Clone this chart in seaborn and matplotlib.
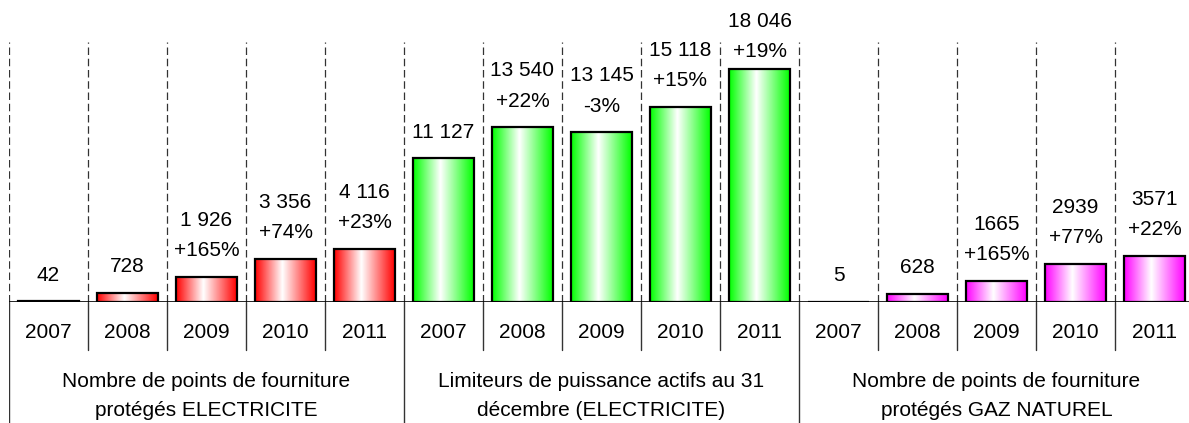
import numpy as np
import pandas as pd
import matplotlib.pyplot as plt
import seaborn as sns
from matplotlib.colors import LinearSegmentedColormap

# data
years = ['2007', '2008', '2009', '2010', '2011']
group_names = ['Nombre de points de fourniture\nprotégés ELECTRICITE',
               'Limiteurs de puissance actifs au 31\ndécembre (ELECTRICITE)',
               'Nombre de points de fourniture\nprotégés GAZ NATUREL']
elec_points = [42, 728, 1926, 3356, 4116]
limiteurs = [11127, 13540, 13145, 15118, 18046]
gaz_points = [5, 628, 1665, 2939, 3571]
value_labels = ['42', '728', '1 926', '3 356', '4 116',
                '11 127', '13 540', '13 145', '15 118', '18 046',
                '5', '628', '1665', '2939', '3571']
pct_labels = ['', '', '+165%', '+74%', '+23%',
              '', '+22%', '-3%', '+15%', '+19%',
              '', '', '+165%', '+77%', '+22%']
group_colors = ['#FF0000', '#00FF00', '#FF00FF']

series = [elec_points, limiteurs, gaz_points]
rows = []
for g, vals in enumerate(series):
    for y, v in zip(years, vals):
        rows.append({'slot': f'{g}-{y}', 'group': g, 'year': y, 'value': v})
df = pd.DataFrame(rows)
order = list(df['slot'])

sns.set_style('white')
plt.rcParams['font.family'] = ['Liberation Sans', 'DejaVu Sans']
plt.rcParams['text.color'] = 'black'

W, H = 1189, 423
fig = plt.figure(figsize=(W / 100, H / 100), dpi=100)
ax = fig.add_axes([9 / W, 121 / H, 1185 / W, 260 / H])

sns.barplot(data=df, x='slot', y='value', order=order, color='white',
            saturation=1, width=0.76, edgecolor='black', linewidth=1.6, ax=ax)

ymax = 20150
n = len(order)
top_value = df['value'].max()

# gradient fill clipped to each bar
grad = np.linspace(0, 1, 256).reshape(1, -1)
for i, patch in enumerate(ax.patches[:n]):
    col = group_colors[df['group'].iloc[i]]
    cmap = LinearSegmentedColormap.from_list('g', [(0, col), (0.45, 'white'), (1, col)])
    x0, y0 = patch.get_x(), patch.get_y()
    w, h = patch.get_width(), patch.get_height()
    patch.set_facecolor('none')
    patch.set_zorder(3)
    im = ax.imshow(grad, extent=[x0, x0 + w, y0, y0 + h], aspect='auto',
                   cmap=cmap, zorder=2, interpolation='bilinear')
    im.set_clip_path(patch)

    lab = value_labels[i] if not pct_labels[i] else value_labels[i] + '\n' + pct_labels[i]
    # the tallest label is squeezed down to stay inside the picture
    off = 6 if h == top_value else 12
    ax.annotate(lab, (x0 + w / 2, y0 + h), xytext=(0, off), textcoords='offset points',
                ha='center', va='bottom', fontsize=15, linespacing=1.75, zorder=4)

# dashed separators between slots
ax.vlines(np.arange(-0.5, n - 1, 1), 0, ymax, colors='#333333', linewidth=0.9,
          linestyles=(0, (6, 3)), zorder=1)
ax.axhline(0, color='black', linewidth=1.2, zorder=5)

ax.set_xlim(-0.5, n - 0.5)
ax.set_ylim(0, ymax)
ax.set_xlabel('')
ax.set_ylabel('')
ax.set_xticks([])
ax.set_yticks([])
sns.despine(ax=ax, left=True, bottom=True)

# category table under the axis
tab = fig.add_axes([9 / W, 0, 1185 / W, 121 / H])
tab.set_xlim(-0.5, n - 0.5)
tab.set_ylim(0, 121)
tab.axis('off')
for i, slot in enumerate(order):
    tab.text(i, 91, df['year'].iloc[i], ha='center', va='center', fontsize=15)
    if i > 0 and i % 5 != 0:
        tab.plot([i - 0.5, i - 0.5], [121, 73], color='#333333', linewidth=1)
for g, name in enumerate(group_names):
    tab.text(g * 5 + 2, 27, name, ha='center', va='center', fontsize=15, linespacing=1.7)
    tab.plot([g * 5 - 0.5, g * 5 - 0.5], [121, 0], color='#333333', linewidth=1)

fig.savefig('out.png', dpi=100)
